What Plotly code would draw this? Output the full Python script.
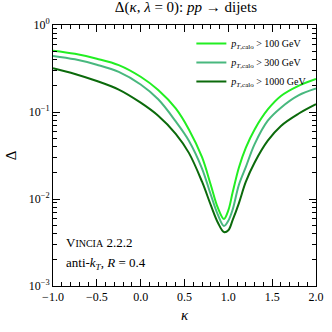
import plotly.graph_objects as go

FONT = "Liberation Serif, DejaVu Serif, serif"

kappa = [-1.0, -0.75, -0.5, -0.25, 0.0, 0.2, 0.4, 0.55, 0.7, 0.8, 0.88,
         0.95, 1.0, 1.05, 1.12, 1.2, 1.3, 1.45, 1.6, 1.8, 2.0]

delta_100 = [0.507, 0.467, 0.410, 0.346, 0.254, 0.179, 0.110, 0.0631, 0.0302, 0.0145, 0.00794,
             0.00589, 0.00741, 0.0120, 0.0229, 0.0389, 0.0631, 0.107, 0.153, 0.200, 0.240]
delta_300 = [0.441, 0.403, 0.349, 0.289, 0.207, 0.140, 0.0780, 0.0468, 0.0224, 0.0112, 0.00661,
             0.00490, 0.00562, 0.00759, 0.0145, 0.0234, 0.0427, 0.0794, 0.112, 0.155, 0.186]
delta_1000 = [0.318, 0.274, 0.227, 0.181, 0.128, 0.0906, 0.0562, 0.0339, 0.0158, 0.00851, 0.00537,
              0.00417, 0.00437, 0.00575, 0.00891, 0.0158, 0.0263, 0.0468, 0.0692, 0.0955, 0.123]

series = [
    ("<i>p</i><sub><i>T</i>,calo</sub> > 100 GeV", delta_100, "#22ee22"),
    ("<i>p</i><sub><i>T</i>,calo</sub> > 300 GeV", delta_300, "#48b87e"),
    ("<i>p</i><sub><i>T</i>,calo</sub> > 1000 GeV", delta_1000, "#0b6a0b"),
]

x_ticks = [-1.0, -0.5, 0.0, 0.5, 1.0, 1.5, 2.0]
y_ticks = [1e-3, 1e-2, 1e-1, 1]
y_ticktext = ["10<sup>−3</sup>", "10<sup>−2</sup>", "10<sup>−1</sup>", "10<sup>0</sup>"]

fig = go.Figure()
for name, vals, col in series:
    fig.add_trace(go.Scatter(
        x=kappa, y=vals, mode="lines", name=name,
        line=dict(color=col, width=2, shape="spline", smoothing=1.0),
    ))

fig.update_layout(
    width=332, height=332,
    margin=dict(l=53, r=16, t=25, b=46),
    paper_bgcolor="white", plot_bgcolor="white",
    font=dict(family=FONT, size=12, color="black"),
    title=dict(text="Δ(<i>κ</i>, <i>λ</i> = 0): <i>pp</i> → dijets",
               x=0.56, xanchor="center", y=0.995, yanchor="top",
               font=dict(size=15)),
    legend=dict(x=0.99, y=0.985, xanchor="right", yanchor="top",
                bgcolor="rgba(0,0,0,0)", font=dict(size=10),
                tracegroupgap=0, itemwidth=30),
    showlegend=True,
)

fig.update_xaxes(
    range=[-1.0, 2.0], tickvals=x_ticks, ticktext=[f"{v:.1f}".replace("-", "−") for v in x_ticks],
    ticks="inside", ticklen=7, tickcolor="black", mirror="ticks", automargin=False,
    showline=True, linecolor="black", linewidth=1, showgrid=False, zeroline=False,
    minor=dict(dtick=0.1, ticks="inside", ticklen=4, tickcolor="black", showgrid=False),
    title=dict(text="<i>κ</i>", font=dict(size=15), standoff=6),
)
fig.update_yaxes(
    type="log", range=[-3, 0], tickvals=y_ticks, ticktext=y_ticktext,
    ticks="inside", ticklen=7, tickcolor="black", mirror="ticks", automargin=False,
    showline=True, linecolor="black", linewidth=1, showgrid=False, zeroline=False,
    minor=dict(ticks="inside", ticklen=4, tickcolor="black", showgrid=False,
               tickvals=[m * 10 ** e for e in (-3, -2, -1) for m in range(2, 10)]),
    title=dict(text="Δ", font=dict(size=15), standoff=8),
)

fig.add_annotation(x=0.04, y=0.165, xref="paper", yref="paper", xanchor="left", yanchor="middle",
                   text="V<span style='font-size:10px'>INCIA</span> 2.2.2", showarrow=False,
                   font=dict(size=13))
fig.add_annotation(x=0.04, y=0.085, xref="paper", yref="paper", xanchor="left", yanchor="middle",
                   text="anti-<i>k</i><sub><i>T</i></sub>, <i>R</i> = 0.4", showarrow=False,
                   font=dict(size=13))

# drop the default 8px page margin so the figure sits at the window's corner
fig.write_html("out.html", config={"displayModeBar": False},
               post_script="document.body.style.margin='0';")
